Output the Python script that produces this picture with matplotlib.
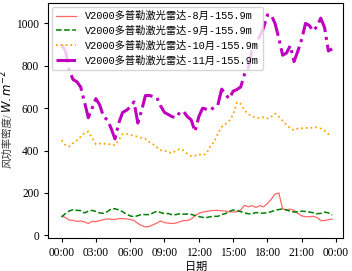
import matplotlib
matplotlib.use('Agg')
import matplotlib.pyplot as plt
import numpy as np

plt.rcParams['font.family'] = ['Liberation Serif', 'Noto Sans CJK SC']
plt.rcParams['axes.unicode_minus'] = False

# 时间（小时），20分钟一个点
hours = [k / 3 for k in range(72)]

aug = [90, 85, 72, 71, 66, 68, 64, 56, 66, 65, 70, 74, 78, 76, 75, 79, 79, 78,
       75, 70, 57, 46, 40, 42, 50, 58, 68, 60, 58, 56, 58, 64, 70, 70, 77, 92,
       104, 110, 113, 116, 118, 118, 116, 115, 111, 110, 112, 120, 142, 135, 140, 132,
       140, 135, 150, 170, 195, 200, 125, 120, 124, 118, 104, 92, 88, 88, 90, 85,
       70, 70, 74, 77]
sep = [87, 103, 115, 121, 118, 117, 106, 114, 118, 113, 106, 104, 112, 125, 126, 120,
       112, 100, 92, 88, 93, 99, 98, 98, 106, 114, 108, 102, 103, 97, 98, 102,
       100, 101, 99, 94, 89, 85, 84, 88, 90, 90, 98, 103, 113, 120, 117, 112,
       106, 102, 102, 108, 105, 105, 107, 112, 118, 122, 125, 120, 114, 110, 111, 114,
       113, 110, 107, 102, 104, 110, 106, 96]
octo = [449, 426, 419, 435, 448, 465, 482, 490, 460, 430, 433, 433, 430, 430, 425, 450,
        478, 479, 474, 470, 465, 460, 455, 440, 430, 415, 402, 400, 392, 388, 400, 408,
        400, 385, 374, 376, 382, 378, 385, 420, 440, 480, 512, 525, 540, 570, 628, 620,
        590, 572, 562, 555, 552, 558, 551, 560, 575, 560, 540, 522, 505, 496, 504, 505,
        508, 504, 510, 510, 504, 494, 478, 476]
nov = [900, 870, 780, 735, 725, 700, 630, 555, 600, 645, 615, 560, 545, 505, 455, 530,
       580, 590, 605, 630, 530, 590, 660, 660, 655, 650, 610, 580, 570, 560, 555, 580,
       585, 560, 545, 490, 560, 600, 595, 590, 605, 615, 690, 665, 645, 680, 688, 700,
       760, 790, 880, 905, 940, 980, 1040, 1040, 1000, 930, 850, 860, 895, 820, 870, 925,
       1000, 990, 965, 985, 1025, 980, 870, 880]

labels = ['V2000多普勒激光雷达-8月-155.9m', 'V2000多普勒激光雷达-9月-155.9m',
          'V2000多普勒激光雷达-10月-155.9m', 'V2000多普勒激光雷达-11月-155.9m']
xticks = [0, 3, 6, 9, 12, 15, 18, 21, 24]
xticklabels = ['00:00', '03:00', '06:00', '09:00', '12:00', '15:00', '18:00', '21:00', '00:00']

fig = plt.figure(figsize=(3.52, 2.71), dpi=100)
ax = fig.add_axes([0.137, 0.122, 0.838, 0.866])

ax.plot(hours, aug, '-', color='#ff6666', lw=0.9, label=labels[0])
ax.plot(hours, sep, '--', color='green', lw=1.1, label=labels[1])
ax.plot(hours, octo, ':', color='orange', lw=1.3, label=labels[2])
ax.plot(hours, nov, '-.', color='m', lw=2.2, label=labels[3])

ax.set_xlim(-1.17, 24.63)
ax.set_ylim(-12, 1095)
ax.set_xticks(xticks)
ax.set_xticklabels(xticklabels)
ax.set_yticks([0, 200, 400, 600, 800, 1000])
ax.tick_params(labelsize=8.3, length=3)
ax.set_xlabel('日期', fontsize=8, labelpad=2)

# y轴标签：中文部分和单位分开写
fig.text(7 / 352, 1 - 141 / 271, '风功率密度/', rotation=90, fontsize=7.5,
         ha='center', va='center', color='#333333')
fig.text(7 / 352, 1 - 92 / 271, '$W.m^{-2}$', rotation=90, fontsize=8.5,
         ha='center', va='center')

ax.legend(loc='upper left', prop={'family': ['Liberation Mono', 'Noto Sans CJK SC'], 'size': 7.4},
          borderaxespad=0.35, handlelength=2, labelspacing=0.45)

fig.savefig('out.png', dpi=100)
